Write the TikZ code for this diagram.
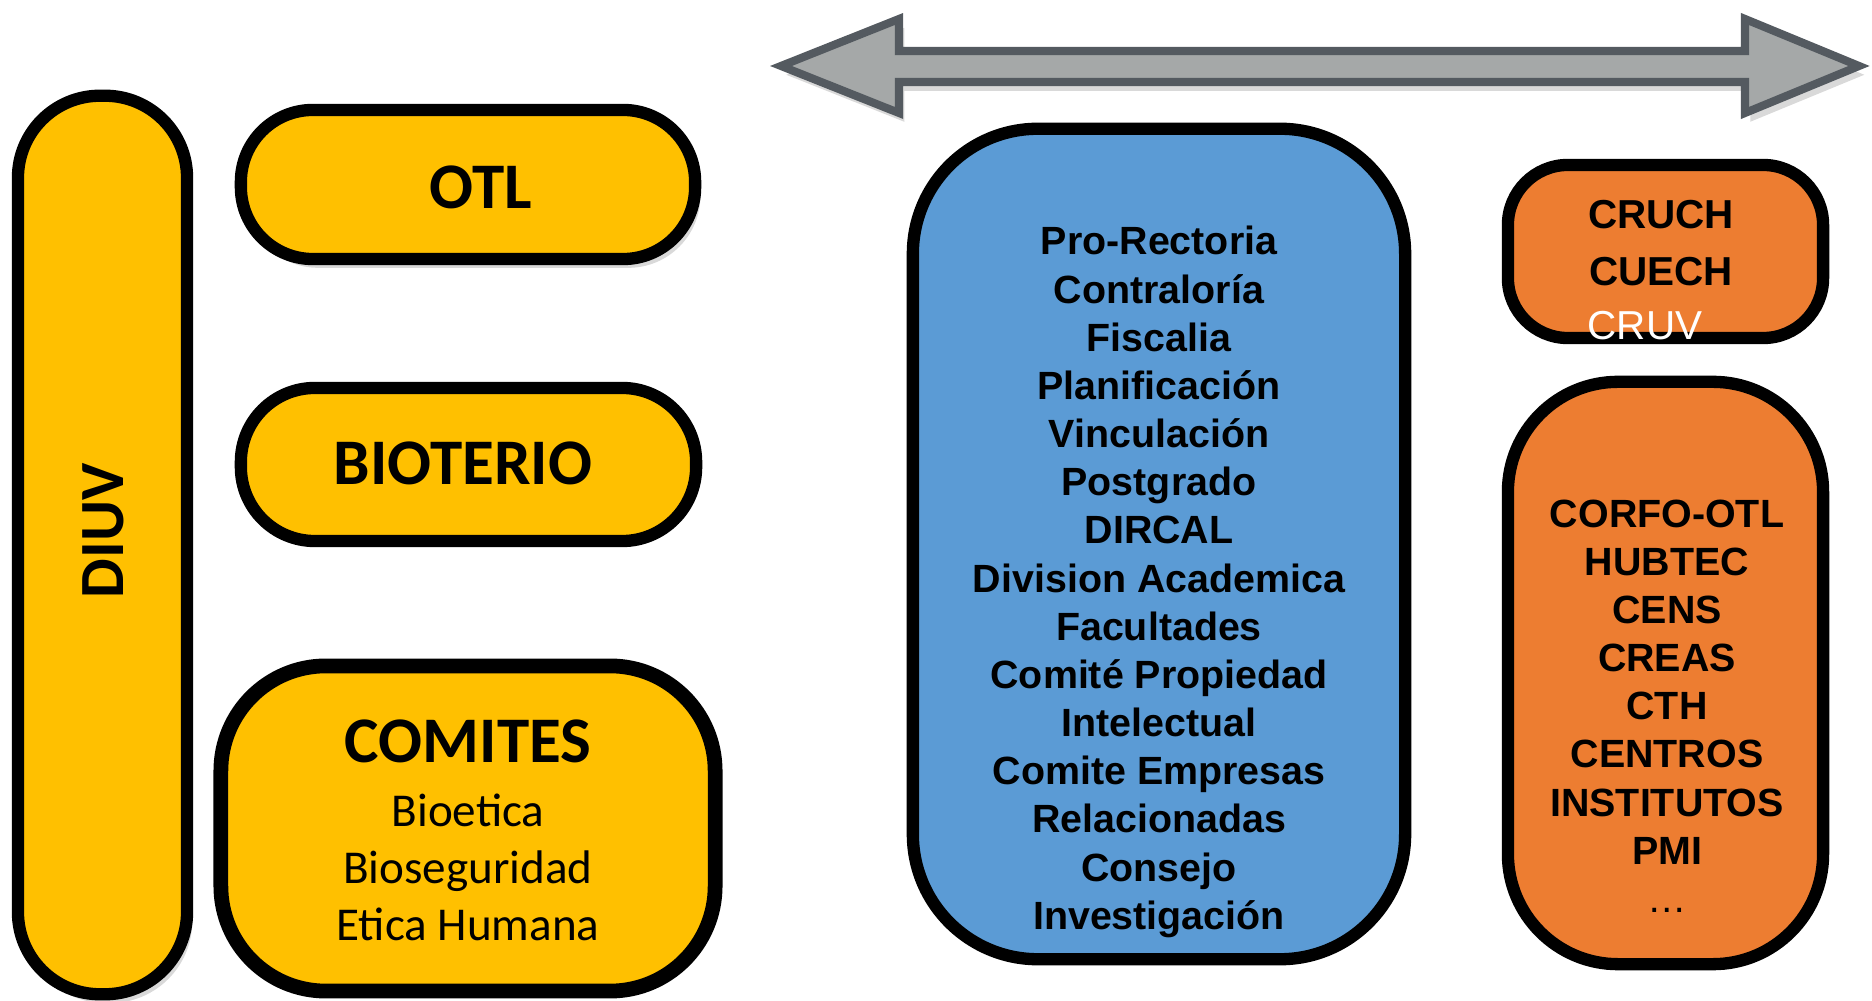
\documentclass[tikz,border=0pt]{standalone}
\usepackage{fontspec}
\setmainfont{Carlito}
\newfontfamily\arialfont{Liberation Sans}
\usetikzlibrary{shadows}

\definecolor{diuvyellow}{HTML}{FFC000}
\definecolor{rectblue}{HTML}{5B9BD5}
\definecolor{centroorange}{HTML}{ED7D31}
\definecolor{arrowgray}{HTML}{A5A8A8}
\definecolor{arrowedge}{HTML}{545A60}

\begin{document}
\begin{tikzpicture}[x=0.01cm,y=-0.01cm,every node/.style={outer sep=0pt},
 box/.style={draw,line width=3.5pt,inner sep=0pt},
 yellowbox/.style={box,fill=diuvyellow},
 bluebox/.style={box,fill=rectblue},
 orangebox/.style={box,fill=centroorange},
 soft/.style={drop shadow={shadow xshift=1.5pt,shadow yshift=-2.5pt,opacity=0.3}},
 bigtxt/.style={font=\fontsize{18.5}{22}\selectfont\bfseries},
 listtxt/.style={align=center,font=\arialfont\fontsize{11.2}{13.7}\selectfont\bfseries}]

\useasboundingbox (0,0) rectangle (1872,1001);

% double arrow on top
\draw[fill=arrowgray,draw=arrowedge,line width=2.3pt,soft] (781,66) -- (899,19) -- (899,51) -- (1745,51) -- (1745,19) -- (1859,66) -- (1745,113) -- (1745,82) -- (899,82) -- (899,113) -- cycle;

 \node[yellowbox,soft,minimum width=1.69cm,minimum height=8.98cm,rounded corners=0.82cm] (diuv) at (102.5,545) {};
 \node[font=\fontsize{17.9}{21}\selectfont\bfseries,rotate=90] (diuvtxt) at (103,531) {DIUV};

 \node[yellowbox,soft,minimum width=4.54cm,minimum height=1.49cm,rounded corners=0.72cm] (otl) at (468,184.5) {};
 \node[bigtxt] (otltxt) at (481,187) {OTL};

 \node[yellowbox,minimum width=4.55cm,minimum height=1.53cm,rounded corners=0.74cm] (bioterio) at (468.5,464.5) {};
 \node[bigtxt] (biotxt) at (463,463) {BIOTERIO};

 \node[yellowbox,line width=4.2pt,minimum width=4.94cm,minimum height=3.25cm,rounded corners=1.05cm] (comites) at (468,828.5) {};
 \node[bigtxt] (comtxt) at (468,741) {COMITES};
 \node[align=center,font=\fontsize{13.4}{16.2}\selectfont] (comlist) at (468,867) {Bioetica\\Bioseguridad\\Etica Humana};


 \node[bluebox,minimum width=4.92cm,minimum height=8.30cm,rounded corners=1.25cm] (rectoria) at (1159,544) {};
 \node[listtxt] (rectlist) at (1159,582) {Pro-Rectoria\\Contraloría\\Fiscalia\\Planificación\\Vinculación\\Postgrado\\DIRCAL\\Division Academica\\Facultades\\Comité Propiedad\\Intelectual\\Comite Empresas\\Relacionadas\\Consejo\\Investigación};


 \node[orangebox,minimum width=3.15cm,minimum height=1.73cm,rounded corners=0.6cm] (consejos) at (1665.5,251.5) {};
 \node[listtxt,font=\arialfont\fontsize{11.5}{16.2}\selectfont\bfseries] (cruch) at (1661,243.5) {CRUCH\\CUECH};
 \node[text=white,font=\arialfont\fontsize{11.5}{14}\selectfont] (cruv) at (1645,326) {CRUV};

 \node[orangebox,minimum width=3.15cm,minimum height=5.82cm,rounded corners=1.1cm] (centros) at (1665.5,673) {};
 \node[listtxt] (centrolist) at (1667,706) {CORFO-OTL\\HUBTEC\\CENS\\CREAS\\CTH\\CENTROS\\INSTITUTOS\\PMI\\\mdseries …};

\end{tikzpicture}
\end{document}
